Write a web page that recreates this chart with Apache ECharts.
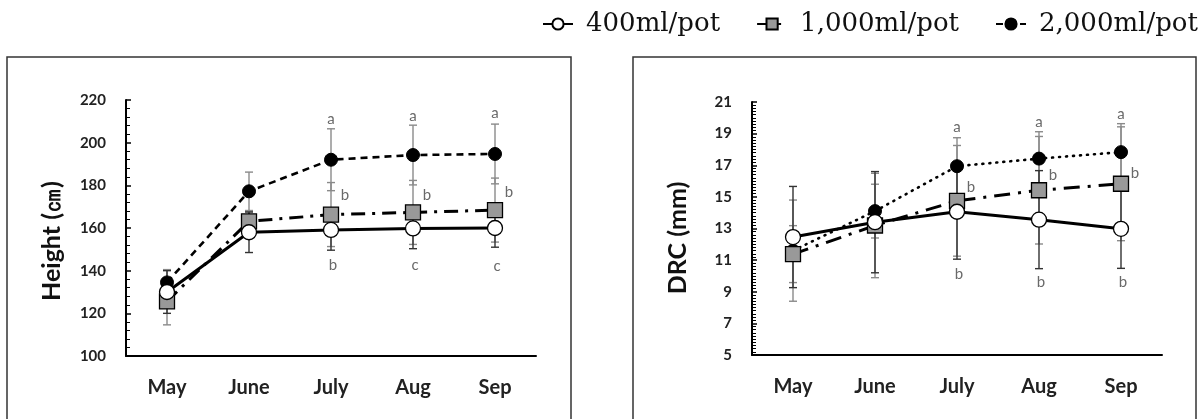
<!DOCTYPE html>
<html><head><meta charset="utf-8">
<script src="https://cdn.jsdelivr.net/npm/echarts@6/dist/echarts.min.js"></script>
<style>html,body{margin:0;padding:0;background:#fff}#c{width:1203px;height:419px}</style>
</head><body><div id="c"></div>
<script>
// ---- data ----
const months = ['May', 'June', 'July', 'Aug', 'Sep'];
const seriesNames = ['400ml/pot', '1,000ml/pot', '2,000ml/pot'];
const heightTicks = { min: 100, max: 220, step: 20 };
const drcTicks = { min: 5, max: 21, step: 2 };

const height400 = [130, 158, 159.1, 159.8, 160];
const height1000 = [125.6, 163.1, 166.3, 167.3, 168.4];
const height2000 = [134.5, 177.2, 192, 194.2, 194.7];
const heightErr400 = [10, 9.5, 9.5, 9.5, 9];
const heightErr1000 = [11, 4.5, 15, 15, 15];
const heightErr2000 = [6, 9, 14.5, 14, 14];

const drc400 = [12.46, 13.4, 14.06, 13.56, 12.98];
const drc1000 = [11.38, 13.19, 14.75, 15.42, 15.83];
const drc2000 = [11.6, 14.1, 16.94, 17.42, 17.83];
const drcErr400 = [3.2, 3.2, 3.0, 3.1, 2.5];
const drcErr1000 = [1.8, 3.3, 3.5, 3.4, 3.6];
const drcErr2000 = [3.2, 1.7, 1.8, 1.7, 1.8];

// significance letters and their heights
const heightLetterTop = ['', '', 'a', 'a', 'a'];
const heightLetterTopY = [null, null, 211, 212.6, 213.7];
const heightLetterMid = ['', '', 'b', 'b', 'b'];
const heightLetterMidY = [null, null, 175.6, 175.6, 176.7];
const heightLetterLow = ['', '', 'b', 'c', 'c'];
const heightLetterLowY = [null, null, 142.7, 142.8, 141.9];
const drcLetterTop = ['', '', 'a', 'a', 'a'];
const drcLetterTopY = [null, null, 19.4, 19.7, 20.25];
const drcLetterMid = ['', '', 'b', 'b', 'b'];
const drcLetterMidY = [null, null, 15.6, 16.4, 16.5];
const drcLetterLow = ['', '', 'b', 'b', 'b'];
const drcLetterLowY = [null, null, 10.1, 9.6, 9.6];

// ---- build ----
const FONT = 'Lato, "Open Sans", sans-serif';
function errRender(color) {
  return function (params, api) {
    const x = api.value(0), lo = api.value(1), hi = api.value(2);
    const p1 = api.coord([x, hi]), p2 = api.coord([x, lo]);
    const w = 4;
    const style = { stroke: color, lineWidth: 1.4 };
    return { type: 'group', children: [
      { type: 'line', shape: { x1: p1[0], y1: p1[1], x2: p2[0], y2: p2[1] }, style: style },
      { type: 'line', shape: { x1: p1[0] - w, y1: p1[1], x2: p1[0] + w, y2: p1[1] }, style: style },
      { type: 'line', shape: { x1: p2[0] - w, y1: p2[1], x2: p2[0] + w, y2: p2[1] }, style: style }
    ]};
  };
}
function errSeries(name, vals, errs, color, gi) {
  return {
    type: 'custom', name: name + ' err', xAxisIndex: gi, yAxisIndex: gi, z: 1,
    renderItem: errRender(color), silent: true,
    data: vals.map((v, i) => [i, v - errs[i], v + errs[i]])
  };
}
function lineSeries(name, vals, gi, opt) {
  return Object.assign({
    type: 'line', name: name, xAxisIndex: gi, yAxisIndex: gi, data: vals, z: 3
  }, opt);
}
function letterSeries(letters, ys, gi, dx) {
  const data = [];
  ys.forEach((y, i) => { if (y !== null) data.push({ value: [i, y], txt: letters[i] }); });
  return {
    type: 'scatter', xAxisIndex: gi, yAxisIndex: gi, symbolSize: 0, silent: true, z: 5,
    data: data.map(d => ({ value: d.value, label: { formatter: d.txt } })),
    label: { show: true, position: 'inside', offset: [dx, 0], color: '#444', fontSize: 15, fontFamily: FONT }
  };
}
const st400 = { symbol: 'circle', symbolSize: 15, itemStyle: { color: '#fff', borderColor: '#000', borderWidth: 1.3 },
  lineStyle: { color: '#000', width: 3 } };
const st1000 = (dash) => ({ symbol: 'rect', symbolSize: 15, itemStyle: { color: '#999', borderColor: '#000', borderWidth: 1.3 },
  lineStyle: { color: '#000', width: 3, type: dash } });
const st2000 = (dash, cap) => ({ symbol: 'circle', symbolSize: 13, itemStyle: { color: '#000', borderColor: '#000', borderWidth: 1 },
  lineStyle: { color: '#000', width: 2.6, type: dash, cap: cap || 'butt' } });

function yAxis(gi, t) {
  return {
    type: 'value', gridIndex: gi, min: t.min, max: t.max, interval: t.step,
    axisLine: { show: true, lineStyle: { color: '#000', width: 2 } },
    axisTick: { show: true, inside: true, length: 5, lineStyle: { color: '#000', width: 1.5 } },
    minorTick: { show: true, splitNumber: gi === 0 ? 5 : 10, length: 4, lineStyle: { color: '#000', width: 1 } },
    splitLine: { show: false },
    axisLabel: { fontFamily: FONT, fontWeight: 'bold', fontSize: 15, color: '#222', margin: 20 }
  };
}
function xAxis(gi) {
  return {
    type: 'category', gridIndex: gi, data: months, boundaryGap: true,
    axisLine: { show: true, lineStyle: { color: '#000', width: 2 } },
    axisTick: { show: false },
    axisLabel: { fontFamily: FONT, fontWeight: 'bold', fontSize: 20, color: '#222', margin: 22 }
  };
}

const option = {
  animation: false,
  backgroundColor: '#fff',
  legend: {
    data: seriesNames, top: 6, left: 537, itemWidth: 30, itemHeight: 14, itemGap: 36,
    textStyle: { fontFamily: '"DejaVu Serif", "Liberation Serif", serif', fontSize: 26, color: '#111', padding: [0, 0, 0, 8] }
  },
  grid: [
    { left: 126, top: 100, width: 410, height: 256 },
    { left: 752, top: 102, width: 410, height: 253 }
  ],
  xAxis: [xAxis(0), xAxis(1)],
  yAxis: [yAxis(0, heightTicks), yAxis(1, drcTicks)],
  graphic: [
    { type: 'rect', shape: { x: 7, y: 57, width: 564, height: 420 }, style: { fill: 'none', stroke: '#333', lineWidth: 1.5 }, silent: true },
    { type: 'rect', shape: { x: 633, y: 57, width: 563, height: 420 }, style: { fill: 'none', stroke: '#333', lineWidth: 1.5 }, silent: true },
    { type: 'text', x: 52, y: 241, rotation: Math.PI / 2, style: { text: 'Height (㎝)', fontFamily: FONT, fontWeight: 'bold', fontSize: 25, fill: '#111', align: 'center', verticalAlign: 'middle' } },
    { type: 'text', x: 678, y: 238, rotation: Math.PI / 2, style: { text: 'DRC (mm)', fontFamily: FONT, fontWeight: 'bold', fontSize: 25, fill: '#111', align: 'center', verticalAlign: 'middle' } }
  ],
  series: [
    errSeries(seriesNames[2], height2000, heightErr2000, '#8a8a8a', 0),
    errSeries(seriesNames[1], height1000, heightErr1000, '#8a8a8a', 0),
    errSeries(seriesNames[0], height400, heightErr400, '#333', 0),
    lineSeries(seriesNames[2], height2000, 0, st2000([7, 5])),
    lineSeries(seriesNames[1], height1000, 0, st1000([14, 7, 3, 7])),
    lineSeries(seriesNames[0], height400, 0, st400),
    letterSeries(heightLetterTop, heightLetterTopY, 0, 0),
    letterSeries(heightLetterMid, heightLetterMidY, 0, 14),
    letterSeries(heightLetterLow, heightLetterLowY, 0, 2),

    errSeries(seriesNames[2], drc2000, drcErr2000, '#8a8a8a', 1),
    errSeries(seriesNames[1], drc1000, drcErr1000, '#8a8a8a', 1),
    errSeries(seriesNames[0], drc400, drcErr400, '#333', 1),
    lineSeries(seriesNames[2], drc2000, 1, st2000([1, 6], 'round')),
    lineSeries(seriesNames[1], drc1000, 1, st1000([16, 8, 3, 8])),
    lineSeries(seriesNames[0], drc400, 1, st400),
    letterSeries(drcLetterTop, drcLetterTopY, 1, 0),
    letterSeries(drcLetterMid, drcLetterMidY, 1, 14),
    letterSeries(drcLetterLow, drcLetterLowY, 1, 2)
  ]
};
const chart = echarts.init(document.getElementById('c'));
chart.setOption(option);
</script></body></html>
